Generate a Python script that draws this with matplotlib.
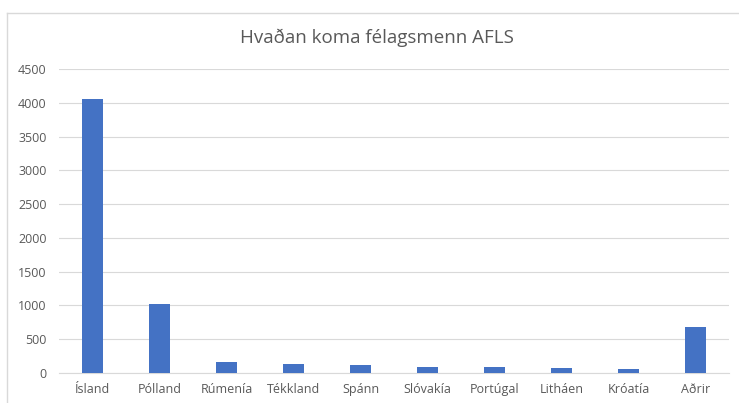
import matplotlib.pyplot as plt
from matplotlib.lines import Line2D

countries = ['Ísland', 'Pólland', 'Rúmenía', 'Tékkland', 'Spánn',
             'Slóvakía', 'Portúgal', 'Litháen', 'Króatía', 'Aðrir']
members = [4060, 1015, 158, 133, 114, 89, 89, 74, 55, 685]
y_ticks = list(range(0, 5000, 500))

plt.rcParams['font.family'] = ['Open Sans', 'DejaVu Sans']
text_color = '#595959'

fig = plt.figure(figsize=(7.39, 4.03), dpi=100)
ax = fig.add_axes([59 / 739, 1 - 373 / 403, 670 / 739, 304 / 403])

x = range(len(countries))
ax.bar(x, members, width=0.32, color='#4472C4', zorder=3)

ax.set_xlim(-0.5, len(countries) - 0.5)
ax.set_ylim(0, 4500)
ax.set_yticks(y_ticks)
ax.set_yticklabels([str(v) for v in y_ticks], fontsize=9, color=text_color)
ax.set_xticks(list(x))
ax.set_xticklabels(countries, fontsize=9, color=text_color)
ax.tick_params(axis='both', length=0)
ax.tick_params(axis='y', pad=9)
ax.tick_params(axis='x', pad=7)
ax.grid(axis='y', color='#D9D9D9', linewidth=0.8, zorder=0)
for side in ['top', 'right', 'left']:
    ax.spines[side].set_visible(False)
ax.spines['bottom'].set_color('#D9D9D9')

fig.text(377 / 739, 1 - 38 / 403, 'Hvaðan koma félagsmenn AFLS', ha='center', va='center',
         fontsize=13.5, color=text_color)

# chart border, cut off at right and bottom in the reference
fig.add_artist(Line2D([7 / 739, 1], [1 - 13 / 403, 1 - 13 / 403], transform=fig.transFigure,
                      color='#D9D9D9', linewidth=1))
fig.add_artist(Line2D([7 / 739, 7 / 739], [0, 1 - 13 / 403], transform=fig.transFigure,
                      color='#D9D9D9', linewidth=1))

fig.savefig('out.png', dpi=100)
